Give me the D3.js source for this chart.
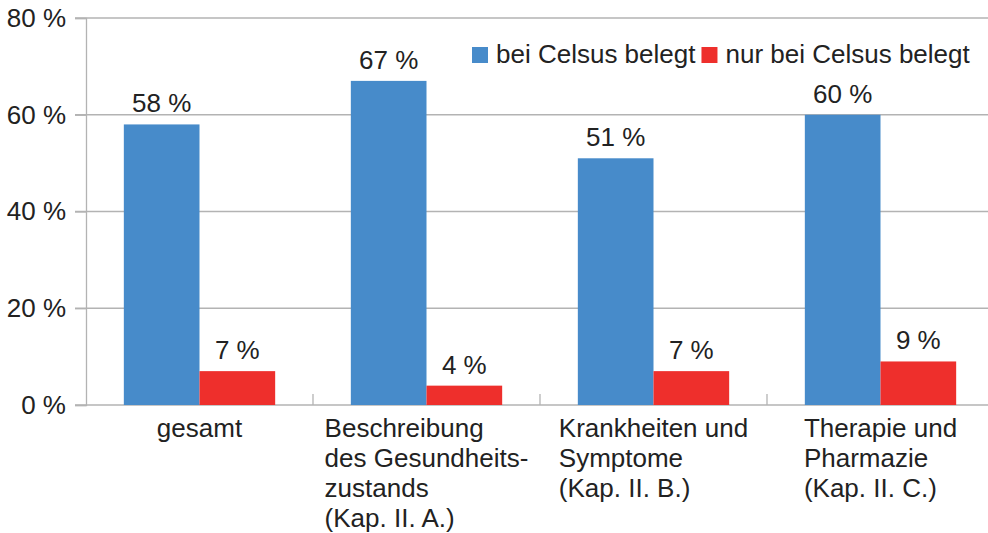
<!DOCTYPE html>
<html>
<head>
<meta charset="utf-8">
<script src="https://cdn.jsdelivr.net/npm/d3@7"></script>
<style>
  body { margin: 0; background: #fff; }
  svg { display: block; font-family: "Liberation Sans", Arial, sans-serif; }
</style>
</head>
<body>
<svg id="chart" width="988" height="533"></svg>
<script>
// chart data
const categories = ["gesamt", "Beschreibung", "Krankheiten", "Therapie"];
const categoryLabels = [
  ["gesamt"],
  ["Beschreibung", "des Gesundheits-", "zustands", "(Kap. II. A.)"],
  ["Krankheiten und", "Symptome", "(Kap. II. B.)"],
  ["Therapie und", "Pharmazie", "(Kap. II. C.)"]
];
const seriesNames = ["bei Celsus belegt", "nur bei Celsus belegt"];
const belegt = [58, 67, 51, 60];
const nurBelegt = [7, 4, 7, 9];
const yTicks = [0, 20, 40, 60, 80];

const colors = ["#478BCA", "#EE2F2C"];
const textColor = "#222";
const gridColor = "#b3b3b3";

const svg = d3.select("#chart");
const width = 988;
const margin = { top: 18, left: 86, bottom: 405 };

const rows = categories.map((c, i) => ({ cat: c, values: [belegt[i], nurBelegt[i]] }));

const x0 = d3.scaleBand()
  .domain(categories)
  .range([margin.left, margin.left + 4 * 227])
  .padding(0);

const x1 = d3.scaleBand()
  .domain(seriesNames)
  .range([0, x0.bandwidth()])
  .paddingInner(0)
  .paddingOuter(0.5);

const y = d3.scaleLinear()
  .domain([0, 80])
  .range([margin.bottom, margin.top]);

// gridlines
svg.append("g")
  .selectAll("line")
  .data(yTicks)
  .join("line")
  .attr("x1", margin.left - 11)
  .attr("x2", width)
  .attr("y1", d => y(d))
  .attr("y2", d => y(d))
  .attr("stroke", gridColor)
  .attr("stroke-width", 1.3);

// y axis
const yAxis = svg.append("g")
  .attr("transform", `translate(${margin.left},0)`)
  .call(d3.axisLeft(y).tickValues(yTicks).tickSize(11).tickPadding(9).tickFormat(d => d + " %"));
yAxis.select(".domain").attr("stroke", gridColor).attr("stroke-width", 1.3);
yAxis.selectAll(".tick line").attr("stroke", gridColor).attr("stroke-width", 1.3);
yAxis.selectAll(".tick text")
  .attr("fill", textColor)
  .style("font-size", "26px")
  .style("font-family", "Liberation Sans, Arial, sans-serif");

// category separator ticks
svg.append("g")
  .selectAll("line")
  .data(categories.slice(1))
  .join("line")
  .attr("x1", d => x0(d))
  .attr("x2", d => x0(d))
  .attr("y1", y(0))
  .attr("y2", y(0) - 11)
  .attr("stroke", gridColor)
  .attr("stroke-width", 1.3);

// bars
const groups = svg.append("g")
  .selectAll("g")
  .data(rows)
  .join("g")
  .attr("transform", d => `translate(${x0(d.cat)},0)`);

groups.selectAll("rect")
  .data(d => d.values.map((v, i) => ({ key: seriesNames[i], value: v, i })))
  .join("rect")
  .attr("x", d => x1(d.key))
  .attr("y", d => y(d.value))
  .attr("width", x1.bandwidth())
  .attr("height", d => y(0) - y(d.value))
  .attr("fill", d => colors[d.i]);

// value labels
groups.selectAll("text")
  .data(d => d.values.map((v, i) => ({ key: seriesNames[i], value: v })))
  .join("text")
  .attr("x", d => x1(d.key) + x1.bandwidth() / 2)
  .attr("y", d => y(d.value) - 12)
  .attr("text-anchor", "middle")
  .attr("fill", textColor)
  .style("font-size", "26px")
  .text(d => d.value + " %");

// category labels (left-aligned block, centered on band)
categories.forEach((c, i) => {
  const t = svg.append("text")
    .attr("fill", textColor)
    .style("font-size", "26px");
  categoryLabels[i].forEach((line, j) => {
    t.append("tspan").attr("y", 437 + j * 30).text(line);
  });
  let maxW = 0;
  t.selectAll("tspan").each(function() {
    maxW = Math.max(maxW, this.getComputedTextLength());
  });
  const left = x0(c) + x0.bandwidth() / 2 - maxW / 2;
  t.selectAll("tspan").attr("x", left);
});

// legend
const legend = svg.append("g");
let lx = 472;
seriesNames.forEach((name, i) => {
  legend.append("rect")
    .attr("x", lx)
    .attr("y", 47)
    .attr("width", 16)
    .attr("height", 16)
    .attr("fill", colors[i]);
  const txt = legend.append("text")
    .attr("x", lx + 24)
    .attr("y", 63)
    .attr("fill", textColor)
    .style("font-size", "26px")
    .text(name);
  lx = lx + 24 + txt.node().getComputedTextLength() + 6;
});
</script>
</body>
</html>
